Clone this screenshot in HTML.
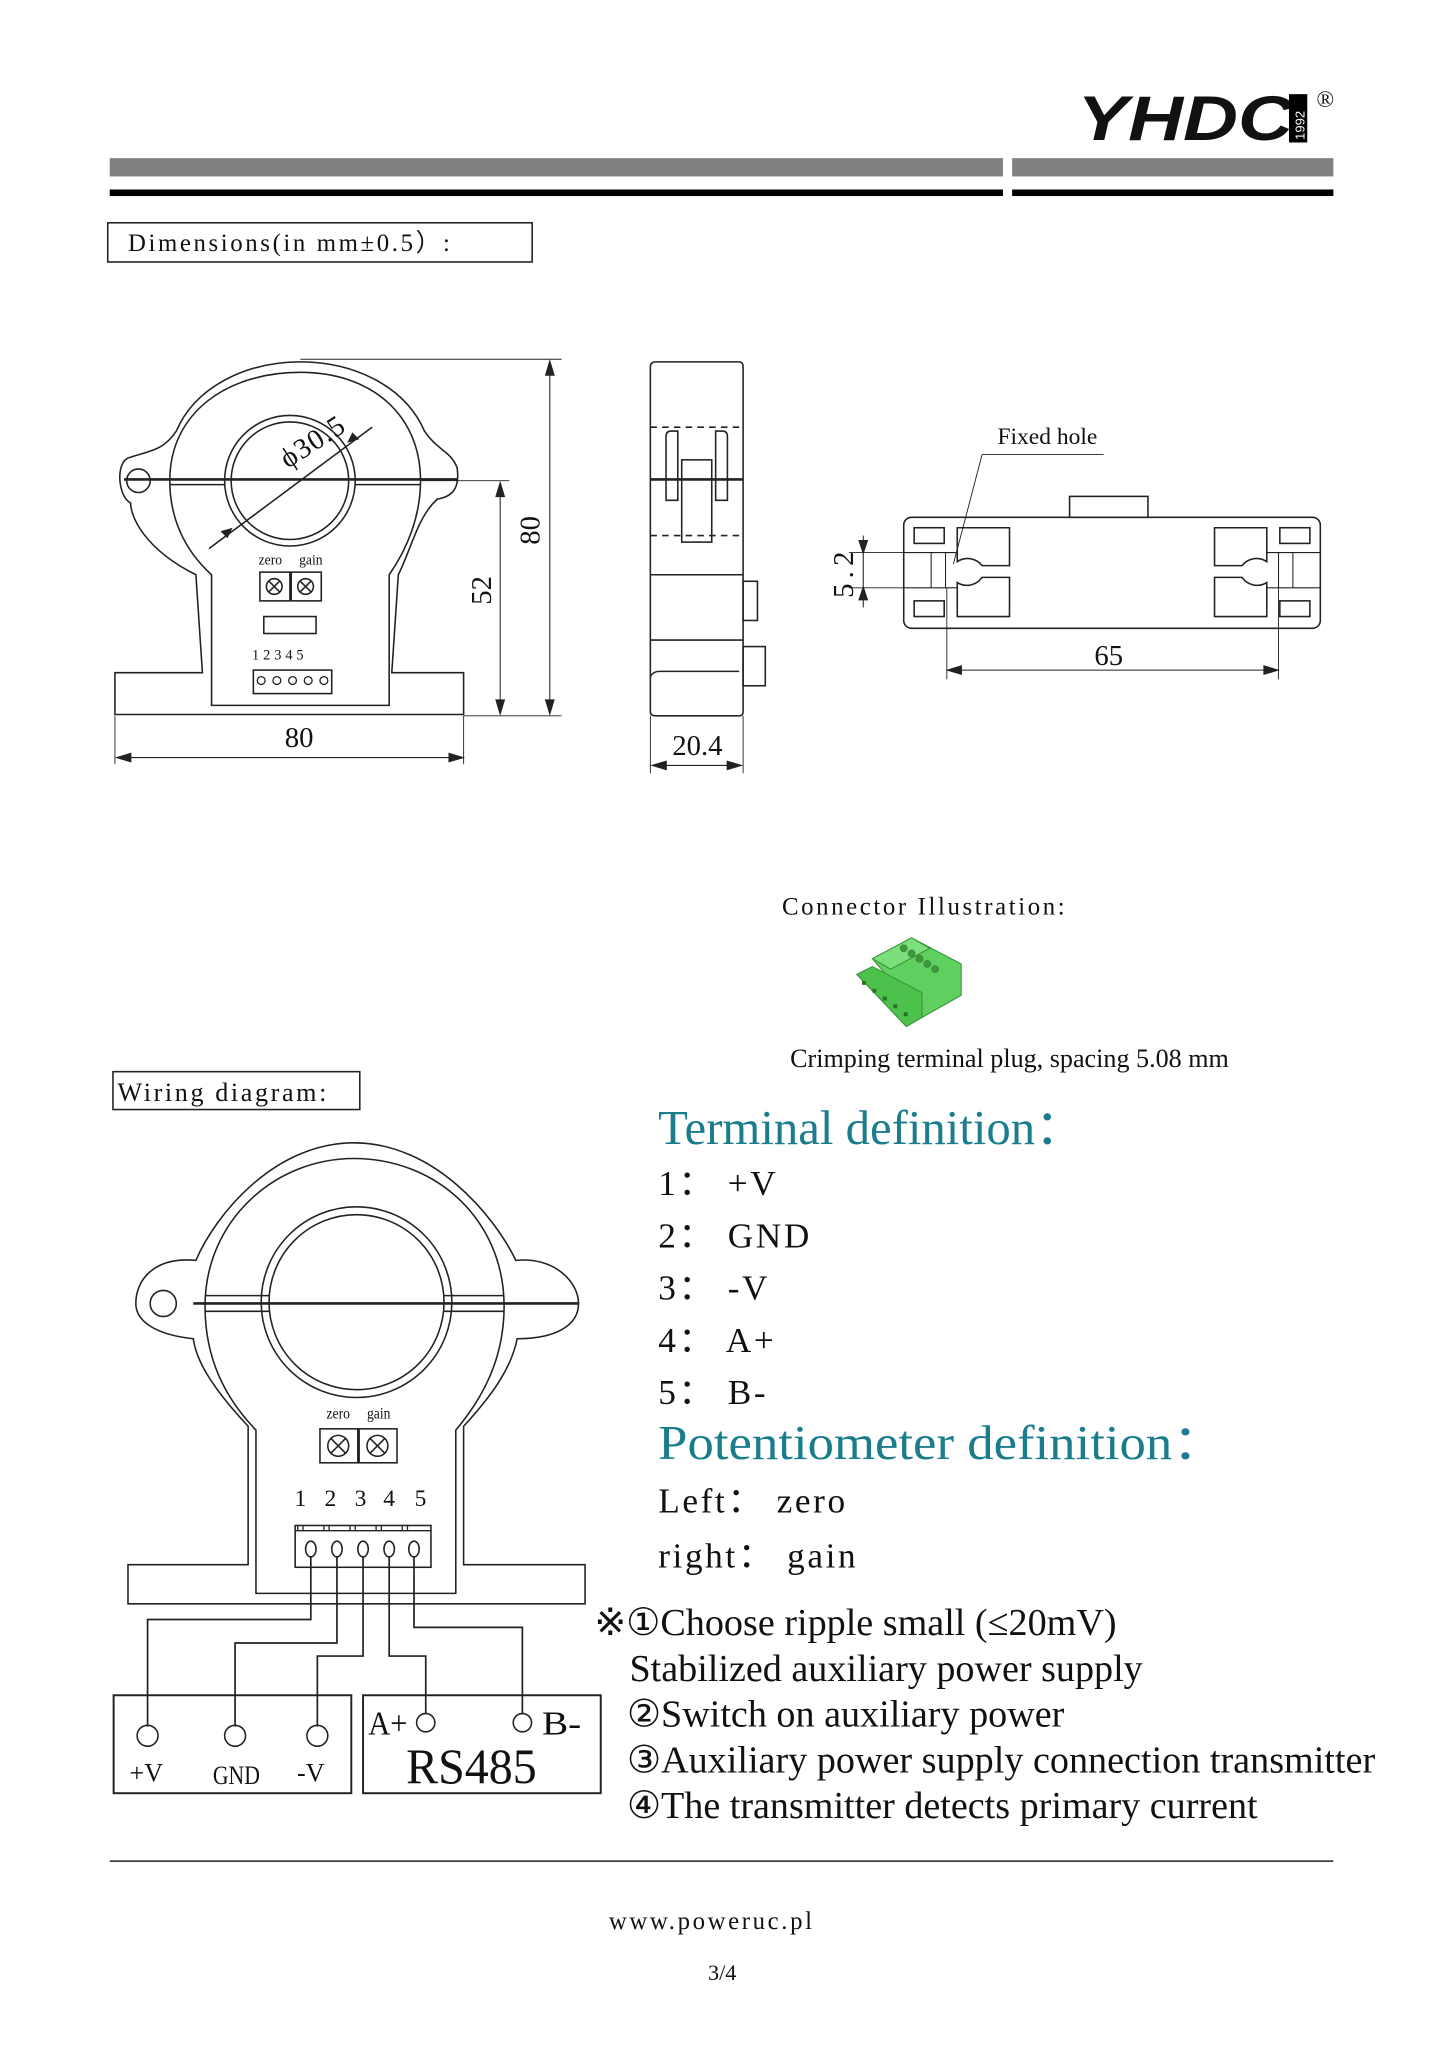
<!DOCTYPE html>
<html><head><meta charset="utf-8"><style>
html,body{margin:0;padding:0;background:#fff}
svg{display:block}
text{font-family:"Liberation Serif",serif;fill:#111}
</style></head><body>
<svg width="1447" height="2048" viewBox="0 0 1108 1568" xmlns="http://www.w3.org/2000/svg">
<g fill="none" stroke="#222" stroke-width="1.2">
<rect x="84" y="121" width="684" height="14" fill="#808080" stroke="none"/>
<rect x="775" y="121" width="246" height="14" fill="#808080" stroke="none"/>
<rect x="84" y="145" width="684" height="5" fill="#000" stroke="none"/>
<rect x="775" y="145" width="246" height="5" fill="#000" stroke="none"/>
<rect x="82.5" y="170.5" width="325" height="30"/>
<path d="M150 440 C110 420 100 395 100 385 C90 380 88 352 100 350 C115 345 125 345 135 330 C150 295 190 277 230 277 C270 277 310 295 325 330 C335 345 345 345 350 358 C352 372 348 380 335 382 C320 395 315 420 305 440 L300 515 L355 515 L355 547 L88 547 L88 515 L155 515 Z"/>
<circle cx="106" cy="368" r="9"/>
<path d="M162 540 L162 440 C140 420 130 395 130 368 C130 315 175 285 230 285 C285 285 322 318 322 368 C322 395 312 420 298 440 L298 540 Z"/>
<circle cx="222" cy="368" r="50"/>
<circle cx="222" cy="368" r="45"/>
<line x1="95" y1="367" x2="350" y2="367" stroke-width="2"/>
<line x1="130" y1="371" x2="172" y2="371"/><line x1="272" y1="371" x2="322" y2="371"/>
<line x1="160" y1="420" x2="285" y2="327"/>
<path d="M170 407 l7 -2 l-3 6z M274 336 l-7 2 l3 -6z" fill="#222"/>
<rect x="199" y="438" width="23" height="22"/><rect x="223" y="438" width="23" height="22"/>
<circle cx="210" cy="449" r="6"/><path d="M206 445 l8 8 M214 445 l-8 8"/>
<circle cx="234" cy="449" r="6"/><path d="M230 445 l8 8 M238 445 l-8 8"/>
<rect x="202" y="472" width="40" height="13"/>
<rect x="194" y="513" width="60" height="18"/>
<g stroke-width="1"><circle cx="200" cy="521" r="3"/><circle cx="212" cy="521" r="3"/><circle cx="224" cy="521" r="3"/><circle cx="236" cy="521" r="3"/><circle cx="248" cy="521" r="3"/></g>
<line x1="230" y1="275" x2="430" y2="275" stroke-width="0.7"/>
<line x1="355" y1="548" x2="430" y2="548" stroke-width="0.7"/>
<line x1="322" y1="368" x2="390" y2="368" stroke-width="0.7"/>
<line x1="421" y1="277" x2="421" y2="546" stroke-width="0.8"/>
<line x1="383" y1="370" x2="383" y2="546" stroke-width="0.8"/>
<path d="M421 277 l-3 10 h6z M421 546 l-3 -10 h6z M383 370 l-3 10 h6z M383 546 l-3 -10 h6z" fill="#222"/>
<line x1="88" y1="548" x2="88" y2="585" stroke-width="0.7"/><line x1="355" y1="548" x2="355" y2="585" stroke-width="0.7"/>
<line x1="90" y1="580" x2="354" y2="580" stroke-width="0.8"/>
<path d="M90 580 l10 -3 v6z M354 580 l-10 -3 v6z" fill="#222"/>
<path d="M502 277 H566 Q569 277 569 281 V545 Q569 548 566 548 H502 Q498 548 498 545 V281 Q498 277 502 277 Z"/>
<line x1="498" y1="327" x2="569" y2="327" stroke-dasharray="5,4"/>
<line x1="498" y1="410" x2="569" y2="410" stroke-dasharray="5,4"/>
<line x1="498" y1="367" x2="569" y2="367" stroke-width="2"/>
<path d="M510 383 V334 Q510 330 514 330 H519 V383 Z M548 383 V330 H553 Q557 330 557 334 V383 Z"/>
<rect x="522" y="352" width="23" height="63"/>
<line x1="498" y1="440" x2="569" y2="440"/>
<line x1="498" y1="490" x2="569" y2="490"/>
<path d="M498 518 Q500 514 505 514 H566"/>
<rect x="569" y="445" width="11" height="30"/>
<rect x="569" y="495" width="17" height="30"/>
<line x1="498" y1="548" x2="498" y2="592" stroke-width="0.7"/><line x1="569" y1="548" x2="569" y2="592" stroke-width="0.7"/>
<line x1="500" y1="586" x2="567" y2="586" stroke-width="0.8"/>
<path d="M500 586 l10 -3 v6z M567 586 l-10 -3 v6z" fill="#222"/>
<rect x="819" y="380" width="60" height="16"/>
<rect x="692" y="396" width="319" height="85" rx="6"/>
<rect x="700" y="404" width="23" height="12"/><rect x="700" y="460" width="23" height="12"/>
<rect x="980" y="404" width="23" height="12"/><rect x="980" y="460" width="23" height="12"/>
<path d="M733 404 H773 V433 H752 A14 14 0 0 0 733 430 Z"/>
<path d="M733 472 H773 V442 H752 A14 14 0 0 1 733 446 Z"/>
<path d="M970 404 H930 V433 H951 A14 14 0 0 1 970 430 Z"/>
<path d="M970 472 H930 V442 H951 A14 14 0 0 0 970 446 Z"/>
<path d="M692 423 H733 M692 450 H733 M970 423 H1011 M970 450 H1011" stroke-width="0.8"/>
<path d="M724 423 V450 M979 423 V450 M713 423 V450 M990 423 V450" stroke-width="0.8"/>
<line x1="650" y1="423" x2="692" y2="423" stroke-width="0.7"/><line x1="650" y1="450" x2="692" y2="450" stroke-width="0.7"/>
<line x1="661" y1="410" x2="661" y2="465" stroke-width="0.8"/>
<path d="M661 423 l-3 -9 h6z M661 450 l-3 9 h6z" fill="#222"/>
<line x1="725" y1="450" x2="725" y2="520" stroke-width="0.7"/><line x1="979" y1="450" x2="979" y2="520" stroke-width="0.7"/>
<line x1="726" y1="513" x2="978" y2="513" stroke-width="0.8"/>
<path d="M726 513 l10 -3 v6z M978 513 l-10 -3 v6z" fill="#222"/>
<path d="M845 348 H752 L730 432" stroke-width="0.7"/>
<path d="M190 1092 C160 1060 150 1040 148 1025 C120 1022 104 1012 104 998 C104 980 118 962 150 965 C165 930 210 875 271 875 C332 875 378 930 395 965 C425 962 443 982 443 998 C443 1015 425 1025 396 1025 C392 1045 380 1065 355 1092 L355 1198 L448 1198 L448 1228 L98 1228 L98 1198 L190 1198 Z"/>
<circle cx="125" cy="998" r="10"/>
<path d="M196 1220 L196 1095 C172 1070 157 1040 157 1000 C157 935 210 887 271 887 C335 887 386 935 386 1000 C386 1040 370 1070 349 1095 L349 1220 Z"/>
<circle cx="273" cy="997" r="73"/>
<circle cx="273" cy="997" r="67"/>
<line x1="148" y1="998" x2="443" y2="998" stroke-width="2"/>
<line x1="157" y1="992" x2="206" y2="992"/><line x1="340" y1="992" x2="386" y2="992"/>
<line x1="157" y1="1004" x2="206" y2="1004"/><line x1="340" y1="1004" x2="386" y2="1004"/>
<rect x="245" y="1094" width="29" height="26"/><rect x="275" y="1094" width="29" height="26"/>
<circle cx="259" cy="1107" r="8"/><path d="M253 1101 l12 12 M265 1101 l-12 12"/>
<circle cx="289" cy="1107" r="8"/><path d="M283 1101 l12 12 M295 1101 l-12 12"/>
<rect x="226" y="1168" width="104" height="32"/>
<path d="M226 1172 H330 M228 1168 v4 M232 1168 v4 M248 1168 v4 M252 1168 v4 M268 1168 v4 M272 1168 v4 M288 1168 v4 M292 1168 v4 M308 1168 v4 M312 1168 v4" stroke-width="1"/>
<g stroke-width="1.2">
<ellipse cx="238" cy="1186" rx="4" ry="6"/><ellipse cx="258" cy="1186" rx="4" ry="6"/><ellipse cx="278" cy="1186" rx="4" ry="6"/><ellipse cx="298" cy="1186" rx="4" ry="6"/><ellipse cx="317" cy="1186" rx="4" ry="6"/>
</g>
<path d="M238 1192 V1240 H113 V1322 M258 1192 V1258 H180 V1322 M278 1192 V1268 H243 V1322 M298 1192 V1268 H326 V1312 M317 1192 V1246 H400 V1312" stroke-width="1.3"/>
<circle cx="113" cy="1329" r="8"/><circle cx="180" cy="1329" r="8"/><circle cx="243" cy="1329" r="8"/>
<circle cx="326" cy="1319" r="7"/><circle cx="400" cy="1319" r="7"/>
<rect x="87" y="1298" width="182" height="75" stroke-width="1.5"/>
<rect x="278" y="1298" width="182" height="75" stroke-width="1.5"/>
<rect x="86.5" y="820.5" width="189" height="29"/>
<line x1="84" y1="1425" x2="1021" y2="1425"/>
</g>
<g stroke="#3a8f3a" stroke-width="0.8">
<path d="M668 734 L698 718 L736 738 L736 762 L706 779 Z" fill="#5fd05f"/>
<path d="M668 734 L698 718 L712 726 L682 742 Z" fill="#7be07b"/>
<g fill="#3f9a3f"><circle cx="692" cy="726" r="2.6"/><circle cx="698" cy="730" r="2.6"/><circle cx="704" cy="734" r="2.6"/><circle cx="710" cy="738" r="2.6"/><circle cx="716" cy="742" r="2.6"/></g>
<path d="M656 746 L668 740 L706 760 L706 779 L694 786 Z" fill="#4cc24c"/>
<g fill="#2a6e2a" stroke="none"><rect x="660" y="751" width="3" height="3"/><rect x="668" y="757" width="3" height="3"/><rect x="676" y="763" width="3" height="3"/><rect x="684" y="769" width="3" height="3"/><rect x="692" y="775" width="3" height="3"/></g>
</g>
<text x="825" y="107" font-weight="bold" font-style="italic" font-size="48" textLength="165" lengthAdjust="spacingAndGlyphs" style="font-family:'Liberation Sans',sans-serif" fill="#000">YHDC</text>
<rect x="987" y="72" width="14" height="37" fill="#000"/>
<text x="0" y="0" transform="translate(999,107) rotate(-90)" font-size="10" style="font-family:'Liberation Sans',sans-serif;fill:#fff">1992</text>
<text x="1008" y="82" font-size="18">®</text>
<text x="98" y="192" font-size="19" letter-spacing="2">Dimensions(in mm±0.5）:</text>
<text x="198" y="432" font-size="11" textLength="18" lengthAdjust="spacingAndGlyphs">zero</text>
<text x="229" y="432" font-size="11" textLength="18" lengthAdjust="spacingAndGlyphs">gain</text>
<text x="193" y="505" font-size="11" letter-spacing="3">12345</text>
<text x="220" y="362" font-size="22" transform="rotate(-33 215 360)" letter-spacing="1">ϕ30.5</text>
<text x="229" y="572" font-size="22" text-anchor="middle">80</text>
<text x="534" y="578" font-size="22" text-anchor="middle">20.4</text>
<text x="849" y="509" font-size="22" text-anchor="middle">65</text>
<text x="0" y="0" transform="translate(413,406) rotate(-90)" font-size="22" text-anchor="middle">80</text>
<text x="0" y="0" transform="translate(376,452) rotate(-90)" font-size="22" text-anchor="middle">52</text>
<text x="0" y="0" transform="translate(653,438) rotate(-90)" font-size="22" text-anchor="middle" letter-spacing="4">5.2</text>
<text x="802" y="340" font-size="18" text-anchor="middle">Fixed hole</text>
<text x="708" y="700" font-size="19" text-anchor="middle" letter-spacing="2">Connector Illustration:</text>
<text x="773" y="817" font-size="20" text-anchor="middle">Crimping terminal plug, spacing  5.08 mm</text>
<text x="90" y="843" font-size="20" letter-spacing="2">Wiring diagram:</text>
<text x="504" y="876" font-size="37" style="fill:#1a7c8c" textLength="326" lengthAdjust="spacingAndGlyphs">Terminal definition：</text>
<g font-size="27" letter-spacing="2">
<text x="504" y="915">1： +V</text>
<text x="504" y="955">2： GND</text>
<text x="504" y="995">3： -V</text>
<text x="504" y="1035">4： A+</text>
<text x="504" y="1075">5： B-</text>
<text x="504" y="1158">Left： zero</text>
<text x="504" y="1200">right： gain</text>
</g>
<text x="504" y="1117" font-size="37" style="fill:#1a7c8c" textLength="434" lengthAdjust="spacingAndGlyphs">Potentiometer definition：</text>
<g font-size="29">
<text x="455" y="1252" textLength="400" lengthAdjust="spacingAndGlyphs">※①Choose ripple small (≤20mV)</text>
<text x="482" y="1287" textLength="393" lengthAdjust="spacingAndGlyphs">Stabilized auxiliary power supply</text>
<text x="480" y="1322" textLength="335" lengthAdjust="spacingAndGlyphs">②Switch on auxiliary power</text>
<text x="480" y="1357" textLength="573" lengthAdjust="spacingAndGlyphs">③Auxiliary power supply connection transmitter</text>
<text x="480" y="1392" textLength="483" lengthAdjust="spacingAndGlyphs">④The transmitter detects primary current</text>
</g>
<text x="250" y="1086" font-size="12" textLength="18" lengthAdjust="spacingAndGlyphs">zero</text>
<text x="281" y="1086" font-size="12" textLength="18" lengthAdjust="spacingAndGlyphs">gain</text>
<g font-size="18" text-anchor="middle"><text x="230" y="1153">1</text><text x="253" y="1153">2</text><text x="276" y="1153">3</text><text x="298" y="1153">4</text><text x="322" y="1153">5</text></g>
<g font-size="20" text-anchor="middle">
<text x="112" y="1364">+V</text><text x="181" y="1366" textLength="36" lengthAdjust="spacingAndGlyphs">GND</text><text x="238" y="1364">-V</text>
</g>
<text x="282" y="1328" font-size="26" textLength="30" lengthAdjust="spacingAndGlyphs">A+</text>
<text x="415" y="1328" font-size="26" textLength="30" lengthAdjust="spacingAndGlyphs">B-</text>
<text x="361" y="1365" font-size="38" text-anchor="middle" textLength="100" lengthAdjust="spacingAndGlyphs">RS485</text>
<text x="545" y="1477" font-size="19" text-anchor="middle" letter-spacing="2">www.poweruc.pl</text>
<text x="553" y="1516" font-size="17" text-anchor="middle">3/4</text>
</svg>
</body></html>
